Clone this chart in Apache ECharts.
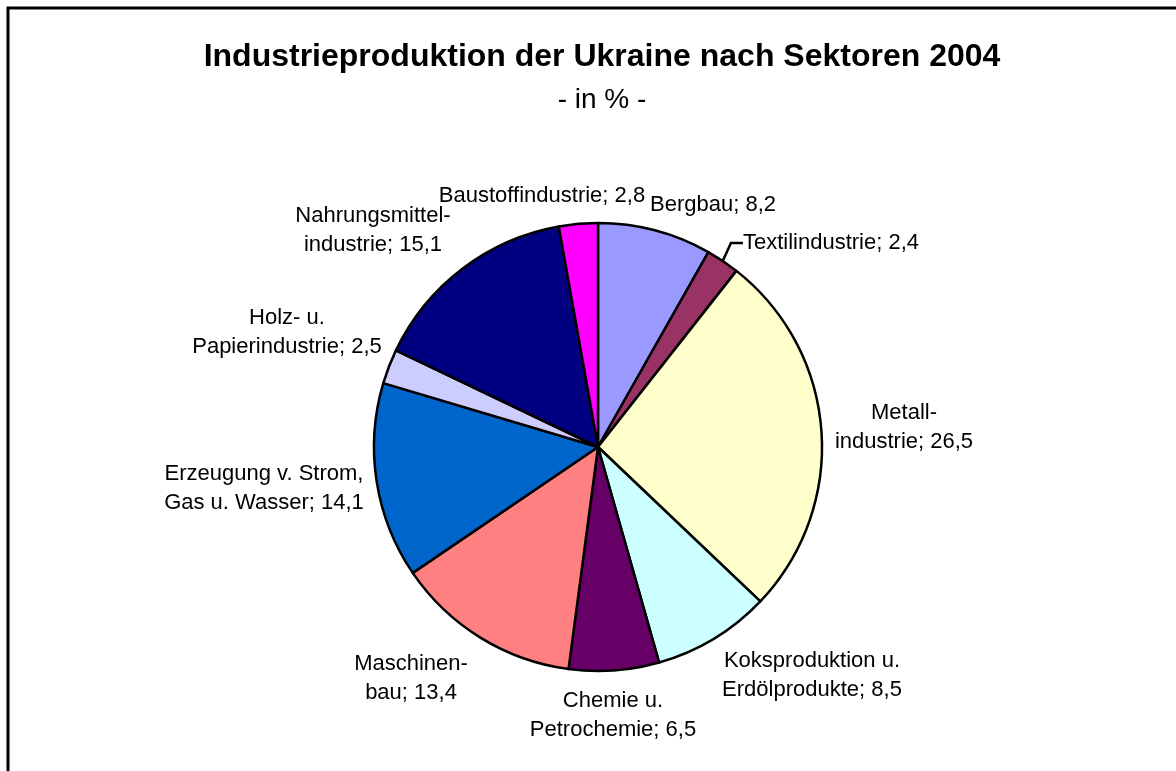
<!DOCTYPE html>
<html lang="de">
<head>
    <meta charset="UTF-8">
    <title>Industrieproduktion der Ukraine</title>
    <style>
        *{ padding:0; margin:0; }
        html, body{ width:100%; height:100%; background:#fff; }
        #main{ width:1176px; height:771px; }
    </style>
    <script src="https://cdn.jsdelivr.net/npm/echarts@6/dist/echarts.min.js"></script>
</head>
<body>
<div id="main"></div>
<script>
    // Sektoren, im Uhrzeigersinn ab 12 Uhr
    var sectors = ['Bergbau', 'Textilindustrie', 'Metall-\nindustrie', 'Koksproduktion u.\nErdölprodukte',
        'Chemie u.\nPetrochemie', 'Maschinen-\nbau', 'Erzeugung v. Strom,\nGas u. Wasser',
        'Holz- u.\nPapierindustrie', 'Nahrungsmittel-\nindustrie', 'Baustoffindustrie'];
    var shares = [8.2, 2.4, 26.5, 8.5, 6.5, 13.4, 14.1, 2.5, 15.1, 2.8];
    var colors = ['#9999FF', '#993366', '#FFFFCC', '#CCFFFF', '#660066', '#FF8080', '#0066CC', '#CCCCFF', '#000080', '#FF00FF'];
    // Mittelpunkt der Beschriftungen (wie im Original manuell verschoben)
    var labelPos = [[713, 205], [831, 243], [904, 427], [812, 675], [613, 715],
        [411, 678], [264, 488], [287, 332], [373, 230], [542, 196]];

    var myChart = echarts.init(document.getElementById('main'));

    var pieData = sectors.map(function (s, i) {
        var item = { name: s, value: shares[i], itemStyle: { color: colors[i] } };
        if (i === 1) {
            item.labelLine = { show: true, length: 10, length2: 12, lineStyle: { color: '#000', width: 2.5 } };
        }
        return item;
    });

    var option = {
        backgroundColor: '#fff',
        animation: false,
        title: [{
            text: 'Industrieproduktion der Ukraine nach Sektoren 2004',
            left: 597,
            top: 36,
            textAlign: 'center',
            textStyle: { fontFamily: 'Liberation Sans, Arial', fontSize: 32, fontWeight: 'bold', color: '#000' }
        }, {
            text: '- in % -',
            left: 597,
            top: 81,
            textAlign: 'center',
            textStyle: { fontFamily: 'Liberation Sans, Arial', fontSize: 28, fontWeight: 'normal', color: '#000' }
        }],
        graphic: [{
            type: 'rect',
            shape: { x: 8, y: 8, width: 1400, height: 1000 },
            style: { fill: 'none', stroke: '#000', lineWidth: 3 },
            silent: true
        }],
        series: [{
            type: 'pie',
            center: [598, 447],
            radius: 224,
            startAngle: 90,
            clockwise: true,
            data: pieData,
            itemStyle: { borderColor: '#000', borderWidth: 2.5 },
            label: {
                show: true,
                color: '#000',
                fontFamily: 'Liberation Sans, Arial',
                fontSize: 22,
                lineHeight: 29,
                align: 'center',
                formatter: function (p) {
                    return p.name + '; ' + p.value.toFixed(1).replace('.', ',');
                }
            },
            labelLine: { show: false },
            labelLayout: function (params) {
                var p = labelPos[params.dataIndex];
                return { x: p[0], y: p[1], align: 'center', verticalAlign: 'middle' };
            },
            emphasis: { disabled: true }
        }]
    };
    myChart.setOption(option);
</script>
</body>
</html>
